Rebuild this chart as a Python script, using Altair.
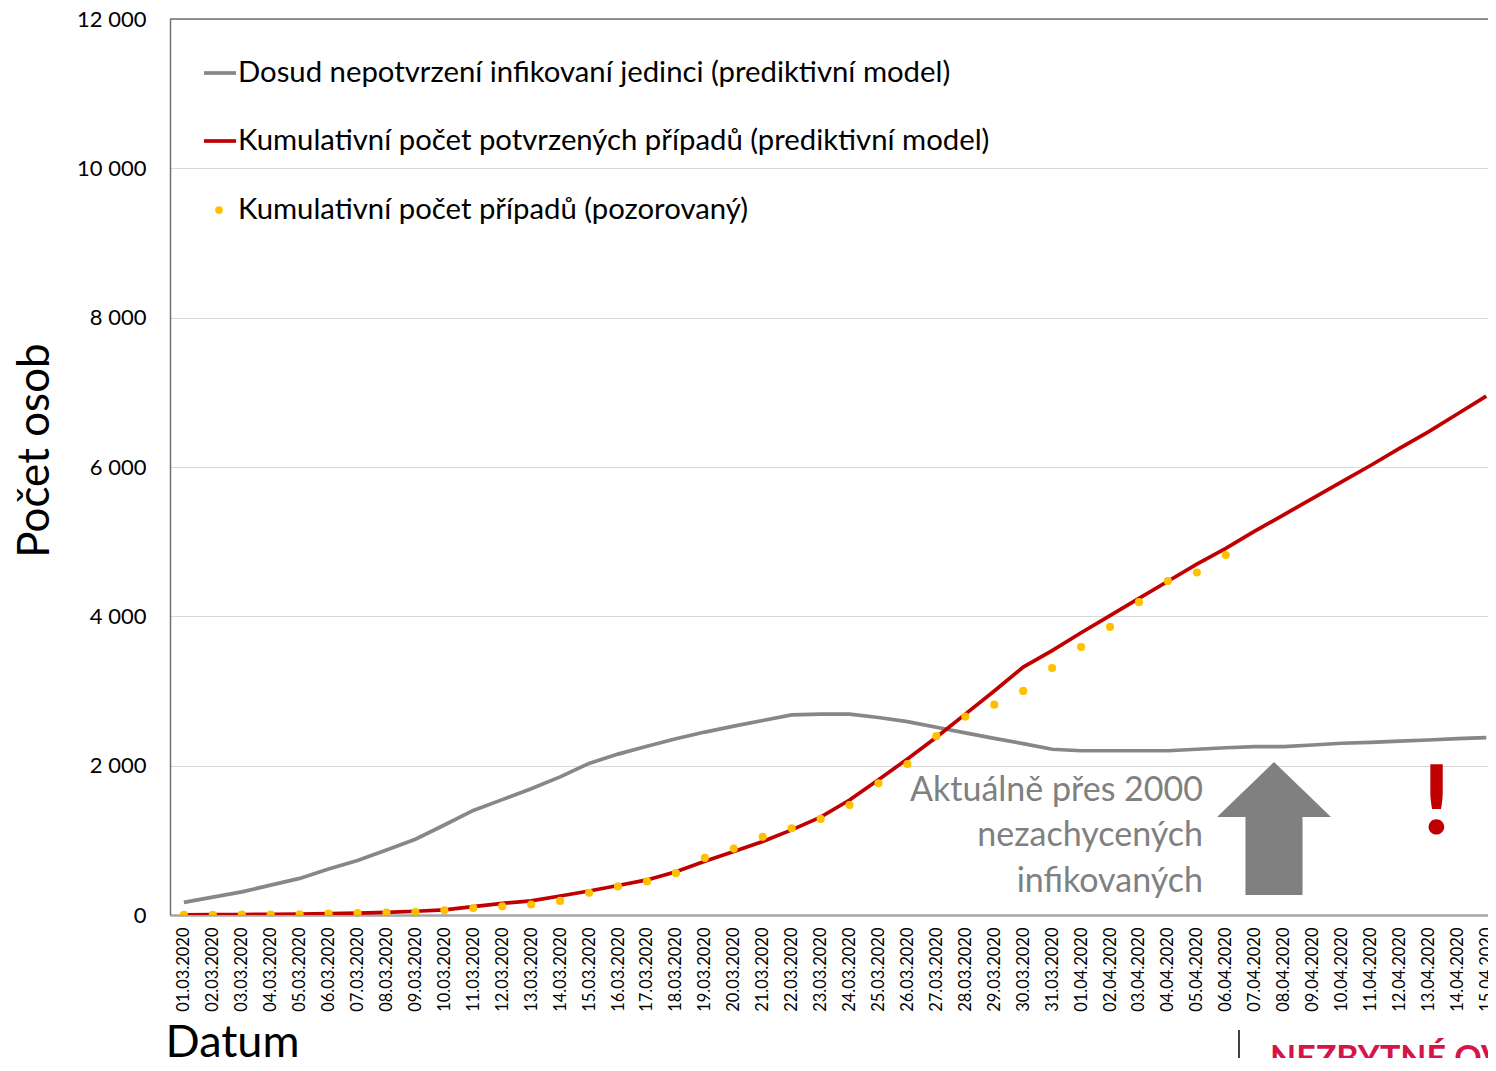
import altair as alt
import pandas as pd

dates = [
    "01.03.2020", "02.03.2020", "03.03.2020", "04.03.2020", "05.03.2020", "06.03.2020",
    "07.03.2020", "08.03.2020", "09.03.2020", "10.03.2020", "11.03.2020", "12.03.2020",
    "13.03.2020", "14.03.2020", "15.03.2020", "16.03.2020", "17.03.2020", "18.03.2020",
    "19.03.2020", "20.03.2020", "21.03.2020", "22.03.2020", "23.03.2020", "24.03.2020",
    "25.03.2020", "26.03.2020", "27.03.2020", "28.03.2020", "29.03.2020", "30.03.2020",
    "31.03.2020", "01.04.2020", "02.04.2020", "03.04.2020", "04.04.2020", "05.04.2020",
    "06.04.2020", "07.04.2020", "08.04.2020", "09.04.2020", "10.04.2020", "11.04.2020",
    "12.04.2020", "13.04.2020", "14.04.2020", "15.04.2020",
]

unconfirmed = [
    170, 240, 310, 400, 490, 615, 730, 870, 1015, 1205, 1400, 1545, 1690, 1850, 2030,
    2155, 2260, 2360, 2450, 2530, 2605, 2680, 2690, 2690, 2645, 2590, 2515, 2440, 2366,
    2295, 2220, 2200, 2200, 2200, 2200, 2220, 2240, 2255, 2255, 2277, 2300, 2313, 2330,
    2344, 2361, 2375,
]

model_confirmed = [
    2, 4, 6, 9, 13, 18, 25, 35, 50, 68, 112, 156, 190, 255, 322, 395, 470, 580, 720,
    850, 985, 1140, 1310, 1540, 1810, 2090, 2380, 2690, 3000, 3320, 3540, 3780, 4010,
    4240, 4470, 4700, 4910, 5140, 5360, 5580, 5800, 6020, 6250, 6470, 6710, 6950,
]

observed = [
    3, 3, 5, 5, 8, 19, 26, 32, 38, 63, 94, 116, 141, 189, 298, 383, 450, 560, 765, 889,
    1047, 1161, 1287, 1472, 1763, 2022, 2395, 2657, 2817, 3001, 3308, 3589, 3858, 4190,
    4472, 4587, 4822,
]

series_names = [
    "Dosud nepotvrzení infikovaní jedinci (prediktivní model)",
    "Kumulativní počet potvrzených případů (prediktivní model)",
    "Kumulativní počet případů (pozorovaný)",
]

y_ticks = [0, 2000, 4000, 6000, 8000, 10000, 12000]
annotation_lines = ["Aktuálně přes 2000", "nezachycených", "infikovaných"]
warning_text = ["!"]
bottom_text = ["NEZBYTNÉ OVĚŘENÍ"]

W, H = 1318, 896
FONT = "Lato"
GRAY = "#878787"
RED = "#C00000"
YELLOW = "#FFC000"
ANN_GRAY = "#808080"

n = len(dates)
lines_df = pd.DataFrame({
    "i": list(range(n)) * 2,
    "v": unconfirmed + model_confirmed,
    "s": [series_names[0]] * n + [series_names[1]] * n,
})
obs_df = pd.DataFrame({"i": list(range(len(observed))), "v": observed})

label_expr = "[" + ",".join("'" + d + "'" for d in dates) + "][datum.value]"
x_min, x_max = -0.48, 45.06

x_enc = alt.X(
    "i:Q",
    scale=alt.Scale(domain=[x_min, x_max], nice=False, zero=False),
    axis=alt.Axis(
        values=list(range(n)), labelExpr=label_expr, labelAngle=270,
        labelFont=FONT, labelFontSize=16.5, labelColor="black", labelPadding=12,
        labelOverlap=False, labelFlush=False, labelBound=False, ticks=False, grid=False,
        domainColor="#a6a6a6", domainWidth=2.5,
        title="Datum", titleFont=FONT, titleFontSize=45, titleFontWeight="normal",
        titleColor="black", titleAlign="left", titleAnchor="start",
        titleBaseline="alphabetic", titleX=-5, titleY=141,
    ),
)
y_enc = alt.Y(
    "v:Q",
    scale=alt.Scale(domain=[0, 12000], nice=False),
    axis=alt.Axis(
        values=y_ticks, labelExpr="replace(format(datum.value, ','), ',', ' ')",
        labelFont=FONT, labelFontSize=22, labelColor="black", labelPadding=24,
        ticks=False, domain=True, domainColor="#6f6f6f", domainWidth=1.5,
        gridColor="#d9d9d9", gridWidth=1,
        title="Počet osob", titleFont=FONT, titleFontSize=44, titleFontWeight="normal",
        titleColor="black", titleAngle=270, titleAlign="center", titleBaseline="middle",
        titleX=-135, titleY=431,
    ),
)

lines = alt.Chart(lines_df).mark_line(strokeWidth=3.7, clip=True).encode(
    x=x_enc, y=y_enc,
    color=alt.Color("s:N", scale=alt.Scale(domain=series_names[:2], range=[GRAY, RED]), legend=None),
)
points = alt.Chart(obs_df).mark_circle(size=66, opacity=1, color=YELLOW, clip=True).encode(x=x_enc, y=y_enc)

top_border = alt.Chart(pd.DataFrame({"a": [0]})).mark_rule(color="#6f6f6f", strokeWidth=1.5).encode(
    x=alt.value(0), x2=alt.value(W), y=alt.value(0)
)

layers = [lines, points, top_border]

# legend
legend_rows = [54, 122, 191]
for k, name in enumerate(series_names):
    tdf = pd.DataFrame({"t": [name]})
    if k < 2:
        sym = alt.Chart(tdf).mark_rule(color=[GRAY, RED][k], strokeWidth=3.7).encode(
            x=alt.value(34), x2=alt.value(66), y=alt.value(legend_rows[k])
        )
    else:
        sym = alt.Chart(tdf).mark_circle(size=60, opacity=1, color=YELLOW).encode(
            x=alt.value(49), y=alt.value(legend_rows[k])
        )
    txt = alt.Chart(tdf).mark_text(
        align="left", baseline="middle", font=FONT, fontSize=29.3, color="black"
    ).encode(x=alt.value(68), y=alt.value(legend_rows[k]), text="t:N")
    layers += [sym, txt]

# annotation text, one line per layer
ann_baselines = [782, 827, 873]
for line, yb in zip(annotation_lines, ann_baselines):
    layers.append(
        alt.Chart(pd.DataFrame({"t": [line]})).mark_text(
            align="right", baseline="alphabetic", font=FONT, fontSize=34, color=ANN_GRAY
        ).encode(x=alt.value(1033), y=alt.value(yb), text="t:N")
    )

arrow_path = "M0,-1 L0.857,-0.173 L0.429,-0.173 L0.429,1 L-0.429,1 L-0.429,-0.173 L-0.857,-0.173 Z"
arrow = alt.Chart(pd.DataFrame({"a": [0]})).mark_point(
    shape=arrow_path, filled=True, size=133 * 133, color="#808080", opacity=1, strokeWidth=0
).encode(x=alt.value(1104), y=alt.value(809.5))

excl = alt.Chart(pd.DataFrame({"t": warning_text})).mark_text(
    align="center", baseline="alphabetic", font=FONT, fontSize=96, fontWeight=900, color=RED
).encode(x=alt.value(1266.5), y=alt.value(815), text="t:N")

sep = alt.Chart(pd.DataFrame({"a": [0]})).mark_rule(color="black", strokeWidth=1.5).encode(
    x=alt.value(1069), y=alt.value(1011), y2=alt.value(1060)
)
bottom = alt.Chart(pd.DataFrame({"t": bottom_text})).mark_text(
    align="left", baseline="alphabetic", font=FONT, fontSize=34, fontWeight="bold", color="#D4154A"
).encode(x=alt.value(1100), y=alt.value(1051), text="t:N")

layers += [arrow, excl, sep, bottom]

chart = alt.layer(*layers).properties(
    width=W, height=H,
    autosize=alt.AutoSizeParams(type="none"),
    padding={"left": 162, "top": 11, "right": 0, "bottom": 143},
    background="white",
).configure_view(stroke="transparent")

chart.save("out.html", embed_options={"renderer": "svg", "actions": False})
